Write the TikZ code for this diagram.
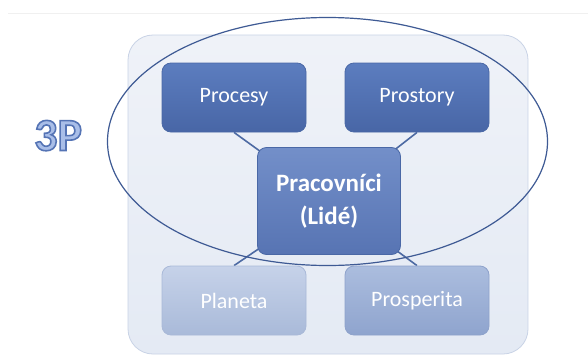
\documentclass[tikz,border=0pt]{standalone}
\usepackage{fontspec}
\setmainfont{Carlito}
\usetikzlibrary{shapes.geometric}
\pgfdeclarelayer{back}
\pgfsetlayers{back,main}

\definecolor{frameFill}{HTML}{EFF2F8}
\definecolor{frameFillLow}{HTML}{E4EAF4}
\definecolor{frameLine}{HTML}{C9D3E6}
\definecolor{darkTop}{HTML}{5C7DBF}
\definecolor{darkBot}{HTML}{4866A6}
\definecolor{darkLine}{HTML}{4A68A6}
\definecolor{midTop}{HTML}{738FC9}
\definecolor{midBot}{HTML}{5774B3}
\definecolor{paleTop}{HTML}{C6D2E9}
\definecolor{paleBot}{HTML}{A9BAD9}
\definecolor{paleLine}{HTML}{A9B9D8}
\definecolor{softTop}{HTML}{ABBDDE}
\definecolor{softBot}{HTML}{8FA4CE}
\definecolor{softLine}{HTML}{8EA2CB}
\definecolor{linkBlue}{HTML}{4D6AA3}
\definecolor{ringBlue}{HTML}{3E5A94}

% outlined text: light blue fill, blue stroke
\newcommand{\outlinedtext}[1]{%
  \special{pdf:code 2 Tr 1.6 w 0.663 0.745 0.910 rg 0.333 0.455 0.710 RG}#1%
  \special{pdf:code 0 Tr}}

\tikzset{
  box/.style={rectangle, rounded corners=9pt, inner sep=0pt,
    minimum width=144pt, minimum height=69pt, line width=0.8pt,
    text=white, font=\fontsize{22}{26}\selectfont},
  darkbox/.style={box, draw=darkLine, top color=darkTop, bottom color=darkBot},
  palebox/.style={box, draw=paleLine, top color=paleTop, bottom color=paleBot},
  softbox/.style={box, draw=softLine, top color=softTop, bottom color=softBot},
  hubbox/.style={box, draw=darkLine, top color=midTop, bottom color=midBot,
    minimum width=143pt, minimum height=107pt, align=center,
    font=\fontsize{25}{33}\selectfont\bfseries},
  frame/.style={rectangle, rounded corners=25pt, draw=frameLine, line width=0.8pt,
    top color=frameFill, bottom color=frameFillLow,
    minimum width=400pt, minimum height=319pt, inner sep=0pt},
  link/.style={draw=linkBlue, line width=1.6pt},
  ring/.style={ellipse, draw=ringBlue, line width=1.2pt, inner sep=0pt,
    minimum width=440pt, minimum height=248pt}
}

\begin{document}
\begin{tikzpicture}[x=1pt, y=-1pt]
  \useasboundingbox (0,0) rectangle (588,356);

  % the four corner boxes and the central hub
  \node[darkbox] (procesy)    at (234,97.5)  {Procesy};
  \node[darkbox] (prostory)   at (417,97.5)  {Prostory};
  \node[palebox] (planeta)    at (234,300.5) {Planeta};
  \node[softbox] (prosperita) at (417,300.5) {Prosperita};
  \node[hubbox]  (hub)        at (329,201)   {Pracovníci\\(Lidé)};

  % page, rounded panel and spokes behind the boxes
  \begin{pgfonlayer}{back}
    \fill[white] (0,0) rectangle (588,356);
    \draw[black!6, line width=0.8pt] (8,13) -- (588,13);
    \node[frame] (panel) at (328,194.5) {};
    \draw[link] (procesy.south)    -- (hub.center);
    \draw[link] (prostory.south)   -- (hub.center);
    \draw[link] (planeta.north)    -- (hub.center);
    \draw[link] (prosperita.north) -- (hub.center);
  \end{pgfonlayer}

  % ellipse around the 3P group
  \node[ring] (group) at (327.5,141.5) {};

  % outlined 3P label
  \node[anchor=base west, inner sep=0pt] (tag) at (34,150.5)
    {\fontsize{46}{46}\selectfont\bfseries\outlinedtext{3P}};
\end{tikzpicture}
\end{document}
